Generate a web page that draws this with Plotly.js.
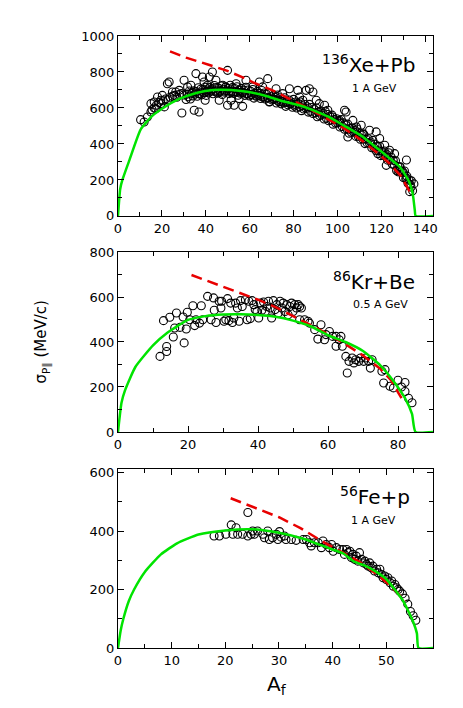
<!DOCTYPE html>
<html>
<head>
<meta charset="utf-8">
<script src="https://cdn.plot.ly/plotly-3.0.1.min.js"></script>
<style>
  body { margin: 0; background: #fff; }
  #chart { width: 463px; height: 708px; }
</style>
</head>
<body>
<div id="chart"></div>
<script>
// ---- 136Xe+Pb, 1 A GeV ----
const xeA = [10.3,11.9,13.4,15,15,16.5,17.2,18,19.5,20.2,21.1,22.5,23.3,24.8,26.3,27.9,29.1,30.1,31.7,33.2,34,34.7,35.5,36.9,38.5,39.2,39.7,40.8,41.6,43,44.6,46.1,47.7,49.1,49.9,49.9,51.5,52.9,53.8,55.2,56.8,58.3,61.3,64.4,65.9,68.2,68.9,72,75,78.1,81.9,82.7,84.2,85.7,87.2,88.8,90.3,91.7,94.1,95.6,97.8,100.9,103.2,103.9,104.7,107,108.6,110.8,111.6,114.6,117.6,118.4,119.2,121.5,122.2,123.7,126,127.6,128.3,130,131.4,131.5,132.9,133.5,134.8,
  15.5,16.5,17.5,18.6,19.6,20.6,21.7,22.7,23.7,24.8,25.8,26.8,27.9,28.9,29.9,
  31,32,33,34.1,35.1,36.1,37.2,38.2,39.2,40.2,41.3,42.3,43.3,44.4,45.4,46.4,47.5,48.5,49.5,50.6,51.6,52.6,53.7,54.7,55.7,56.8,57.8,58.8,59.9,60.9,61.9,63,64,65,66,67.1,68.1,69.1,70.2,71.2,72.2,73.3,74.3,75.3,76.4,77.4,78.4,79.5,80.5,81.5,82.6,83.6,84.6,85.7,86.7,87.7,88.8,89.8,90.8,91.8,92.9,93.9,94.9,96,97,98,99.1,100.1,101.1,102.2,103.2,104.2,105.3,106.3,107.3,108.4,109.4,110.4,111.5,112.5,113.5,114.6,115.6,116.6,117.6,118.7,119.7,120.7,121.8,122.8,123.8,124.9,125.9,126.9,128,129,130,131.1,132.1,133.1,134.2,
  31.5,32.5,33.5,34.6,35.6,36.6,37.7,38.7,39.7,40.8,41.8,42.8,43.9,44.9,45.9,47,48,49,50.1,51.1,52.1,53.1,54.2,55.2,56.2,57.3,58.3,59.3,60.4,61.4,62.4,63.5,64.5,65.5,66.6,67.6,68.6,69.7,70.7,71.7,72.8,73.8,74.8,75.9,76.9,77.9,78.9,80,81,82,83.1,84.1,85.1,86.2,87.2,88.2,89.3,90.3,91.3,92.4,93.4,94.4,95.5,96.5,97.5,98.6,99.6,100.6,101.7,102.7,103.7,104.7,105.8,106.8,107.8,108.9,109.9,110.9,112,113,114,115.1,116.1,117.1,118.2,119.2,120.2,121.3,122.3,123.3,124.4,125.4,126.4,127.5,128.5,129.5,130.5,131.6,132.6,133.6,
  36.6,38.6,40.6,42.6,44.6,46.6,48.6,50.6,52.6,54.6,56.6,58.6,60.6,62.6,64.6,66.6,68.6,70.6,72.6,74.6,76.6,78.6,80.6];
const xeSig = [535,522,550,578,624,633,596,661,643,670,606,735,744,689,689,698,572,754,717,726,689,587,791,578,772,744,643,726,772,800,754,643,726,717,809,615,643,615,735,652,609,754,717,744,717,763,633,707,680,707,698,661,643,698,707,689,643,624,615,587,550,531,587,578,439,531,494,504,457,476,467,346,430,393,281,365,346,245,272,240,311,210,135,160,178,
  590,600,615,630,625,640,650,645,660,665,670,660,675,680,672,
  647,662,650,667,678,665,678,673,685,670,685,694,679,690,682,692,675,688,696,680,690,681,689,671,682,688,670,678,667,674,655,665,671,653,660,650,656,635,644,648,628,635,623,629,609,618,623,604,611,600,607,585,594,597,577,582,569,573,551,558,561,539,543,529,533,510,516,517,494,497,482,484,460,465,466,442,443,426,428,402,406,404,379,379,362,362,335,338,336,310,310,288,284,253,252,246,213,206,181,174,140,
  677,694,681,696,691,712,704,702,716,700,713,706,725,714,710,722,704,716,708,726,713,708,718,699,709,699,715,700,693,703,682,692,682,697,683,676,684,662,670,658,672,657,649,657,636,644,633,648,633,626,634,612,619,607,620,603,594,600,577,583,570,582,564,554,560,535,540,525,536,517,506,510,485,489,474,483,462,450,453,426,429,411,420,398,385,387,359,361,343,351,327,309,307,275,273,249,250,221,200,195,
  680,688,692,694,695,696,694,693,690,687,684,680,675,671,667,662,656,650,643,636,630,625,620];
const xeFitA = [0,1,2,5.2,10.3,15.5,20.6,27.9,36.1,43.3,51.6,58.8,67.1,74.3,82.6,88.8,96,103.2,111.5,118.7,123.8,128.3,130.5,132.9,134.3,135.2,135.6,143.5];
const xeFitSig = [0,150,200,310,480,555,600,650,685,700,700,690,668,640,615,588,550,500,440,370,320,274,235,182,120,33,0,0];
const xeDashA = [23.7,31,41.3,49.5,56.8,61.9,67.1,72.2,77.4,82.6,88.8,96,103.2,111.5,118.7,123.8,129,133.1];
const xeDashSig = [915,880,840,808,770,740,715,688,655,625,585,535,485,415,345,290,220,130];

// ---- 86Kr+Be, 0.5 A GeV ----
const krA = [12,13,13.9,13.9,14.8,15.8,16.2,16.7,17.7,18.6,18.9,19.5,19.8,20.5,21.4,21.9,22.3,23.3,23.8,24.2,25.6,26.6,27.3,27.5,28,28.9,29.4,29.6,30.3,30.8,31.3,31.7,32.2,32.7,33.1,33.6,34.1,34.6,35,35.5,36.4,36.9,37.4,37.8,38.3,38.8,39.2,39.7,40.2,40.7,41.1,41.6,42.1,42.5,43,43.5,43.9,44.4,44.9,45.4,45.8,46.3,46.8,47.2,47.7,48.2,48.6,49.1,49.6,50,50.5,51,51.5,51.9,52.4,51.9,53.3,54.3,54.7,56.2,58,57.1,59,59.4,60.4,61.3,62.3,63.2,63.7,62.3,64.1,65.1,65.5,66,66.9,67.4,67.9,68.8,69.3,70.2,70.7,71.6,72.1,72.6,75.4,75.9,76.3,77.7,78.7,80,81,82,82,83,84];
const krSig = [336,495,380,358,510,422,462,529,465,511,396,458,532,499,561,473,499,484,561,499,603,499,596,541,487,581,551,581,492,499,593,495,573,487,507,573,551,492,584,558,588,499,581,504,584,566,544,536,507,573,541,578,536,558,581,551,507,584,544,566,529,581,551,573,536,566,521,558,573,536,566,551,566,558,551,499,499,492,484,455,477,413,410,433,447,425,425,410,425,381,381,336,262,314,329,307,321,314,329,314,329,314,284,321,270,218,277,203,196,230,200,180,220,150,130];
const krFitA = [0,1,2,5,10,14,20,25,30,35,40,45,50,55,60,65,70,75,79,82,84,85,90];
const krFitSig = [0,130,185,290,385,440,498,515,522,523,520,512,495,470,430,400,360,295,220,150,80,0,0];
const krDashA = [21,25,30,35,40,45,50,55,60,65,70,75,78,81];
const krDashSig = [698,675,648,620,588,555,515,475,435,390,340,280,230,150];

// ---- 56Fe+p, 1 A GeV ----
const feA = [17.9,18.9,20.1,21.1,21.4,22,22.3,23.2,24.2,24.2,24.8,25.1,25.4,26,27,27.3,27.9,28.2,28.8,29.5,29.8,30.1,30.4,31,31.3,32.3,33.2,34.5,35.1,35.7,36,36.6,37.3,37.9,38.2,38.8,39.4,39.8,40.1,40.7,41.3,41.9,42.2,42.6,42.9,43.2,43.5,43.8,44.1,44.4,45,44.7,45.4,45.7,46,46.3,46.6,46.9,47.2,47.5,47.8,48.2,48.5,48.8,49.1,49.4,49.7,50,50.3,50.7,51,51.3,51.6,51.9,52.2,52.5,53,53.5,54,54.5,55,55.5];
const feSig = [383,383,389,421,389,411,389,389,463,383,389,400,389,400,389,377,400,371,377,389,371,398,379,383,371,371,368,371,371,360,349,360,360,343,366,354,343,354,331,343,337,337,320,337,326,331,309,320,303,314,326,297,303,291,297,286,280,291,274,280,263,269,257,269,251,240,246,234,240,223,229,211,217,206,200,194,185,170,150,125,110,95];
const feFitA = [0,0.5,1,2,3,5,8,11,15,20,25,30,35,39,42,44,46,48,50,52,53,54,55,55.7,56,58.7];
const feFitSig = [0,60,100,160,200,260,320,358,388,402,406,394,371,343,323,295,282,262,235,190,165,130,90,50,0,0];
const feDashA = [21,25,30,34,38,42,45,48,50,52,53.5];
const feDashSig = [512,483,447,410,365,325,295,255,225,190,160];

const GREEN = "#00e400";
const RED = "#e80000";

function pts(x, y, xa, ya) {
  return { x: x, y: y, xaxis: xa, yaxis: ya, type: "scatter", mode: "markers",
    marker: { symbol: "circle-open", size: 8, color: "#000", line: { width: 1.1, color: "#000" } },
    hoverinfo: "skip" };
}
function dashed(x, y, xa, ya) {
  return { x: x, y: y, xaxis: xa, yaxis: ya, type: "scatter", mode: "lines",
    line: { color: RED, width: 2.5, dash: "11px,6px" }, hoverinfo: "skip" };
}
function fit(x, y, xa, ya) {
  return { x: x, y: y, xaxis: xa, yaxis: ya, type: "scatter", mode: "lines",
    line: { color: GREEN, width: 2.5, shape: "spline", smoothing: 0.5 }, hoverinfo: "skip" };
}

const data = [
  pts(xeA, xeSig, "x", "y"), dashed(xeDashA, xeDashSig, "x", "y"), fit(xeFitA, xeFitSig, "x", "y"),
  pts(krA, krSig, "x2", "y2"), dashed(krDashA, krDashSig, "x2", "y2"), fit(krFitA, krFitSig, "x2", "y2"),
  pts(feA, feSig, "x3", "y3"), dashed(feDashA, feDashSig, "x3", "y3"), fit(feFitA, feFitSig, "x3", "y3")
];

const axBase = {
  showline: true, linecolor: "#000", linewidth: 1, mirror: "ticks",
  ticks: "inside", ticklen: 6, tickwidth: 1, tickcolor: "#000",
  showgrid: false, zeroline: false,
  tickfont: { family: "DejaVu Sans", size: 13, color: "#000" }
};
function xax(range, dtick, minor, anchor) {
  return Object.assign({}, axBase, { range: range, dtick: dtick, tick0: 0, anchor: anchor, domain: [0, 1],
    minor: { dtick: minor, ticks: "inside", ticklen: 4, tickcolor: "#000", showgrid: false } });
}
function yax(range, domain, anchor) {
  return Object.assign({}, axBase, { range: range, dtick: 200, tick0: 0, anchor: anchor, domain: domain,
    minor: { dtick: 100, ticks: "inside", ticklen: 4, tickcolor: "#000", showgrid: false } });
}

const labFont = { family: "DejaVu Sans", size: 20, color: "#000" };
const subFont = { family: "DejaVu Sans", size: 11, color: "#000" };
function note(text, x, y, font) {
  return { text: text, x: x, y: y, xref: "paper", yref: "paper", showarrow: false,
    xanchor: "right", yanchor: "middle", font: font };
}

const layout = {
  width: 463, height: 708,
  margin: { l: 118, r: 30, t: 36, b: 60 },
  paper_bgcolor: "#fff", plot_bgcolor: "#fff",
  showlegend: false,
  xaxis: xax([0, 143.5], 20, 10, "y"),
  yaxis: yax([0, 1000], [0.706, 1], "x"),
  xaxis2: xax([0, 90], 20, 10, "y2"),
  yaxis2: yax([0, 800], [0.353, 0.647], "x2"),
  xaxis3: xax([0, 58.7], 10, 5, "y3"),
  yaxis3: yax([0, 612], [0, 0.2925], "x3"),
  annotations: [
    note("<sup>136</sup>Xe+Pb", 0.948, 0.955, labFont),
    note("1 A GeV", 0.892, 0.914, subFont),
    note("<sup>86</sup>Kr+Be", 0.948, 0.599, labFont),
    note("0.5 A GeV", 0.927, 0.562, subFont),
    note("<sup>56</sup>Fe+p", 0.933, 0.248, labFont),
    note("1 A GeV", 0.889, 0.208, subFont),
    { text: "σ<sub>P∥</sub> (MeV/c)", x: -0.24, y: 0.5, xref: "paper", yref: "paper",
      showarrow: false, textangle: -90, xanchor: "center", yanchor: "middle",
      font: { family: "DejaVu Sans", size: 15, color: "#000" } },
    { text: "A<sub>f</sub>", x: 0.505, y: -0.06, xref: "paper", yref: "paper",
      showarrow: false, xanchor: "center", yanchor: "middle",
      font: { family: "DejaVu Sans", size: 20, color: "#000" } }
  ]
};

Plotly.newPlot("chart", data, layout, { displayModeBar: false, staticPlot: true });
</script>
</body>
</html>
